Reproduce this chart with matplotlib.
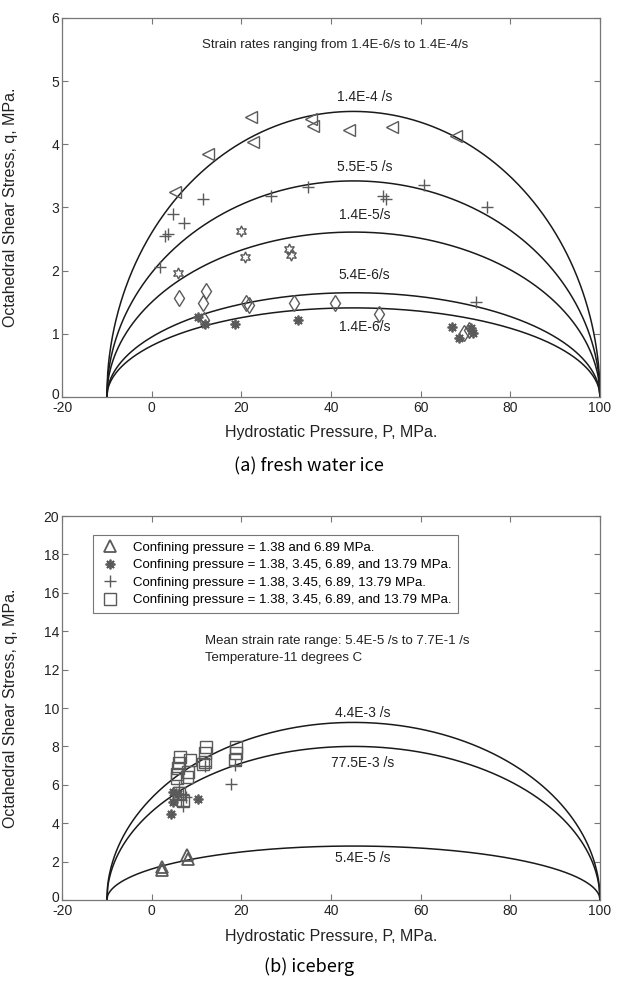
import numpy as np
import matplotlib.pyplot as plt
import matplotlib.transforms as mtransforms

plt.rcParams['font.family'] = ['Liberation Sans', 'DejaVu Sans']
plt.rcParams['axes.unicode_minus'] = False

# failure envelopes run from p_min to p_max (MPa)
p_min, p_max = -10, 100

# (a) fresh water ice - peak q of each strain-rate envelope
rates_a = ['1.4E-4 /s', '5.5E-5 /s', '1.4E-5/s', '5.4E-6/s', '1.4E-6/s']
peaks_a = [4.52, 3.42, 2.61, 1.65, 1.41]
label_q_a = [4.75, 3.64, 2.88, 1.93, 1.11]

# (a) test points, one marker per strain rate
tri_a_p = [5.1, 12.5, 22.1, 22.6, 35.6, 35.9, 44.1, 53.7, 67.9]
tri_a_q = [3.25, 3.85, 4.43, 4.04, 4.40, 4.29, 4.22, 4.27, 4.13]
plus_a_p = [1.8, 3.0, 3.6, 4.7, 7.3, 11.4, 26.7, 34.8, 51.6, 52.2, 60.8, 74.9, 72.3]
plus_a_q = [2.06, 2.54, 2.58, 2.90, 2.75, 3.14, 3.18, 3.33, 3.18, 3.14, 3.35, 3.00, 1.51]
hex_a_p = [5.9, 20.0, 20.9, 30.6, 31.0]
hex_a_q = [1.96, 2.63, 2.22, 2.35, 2.25]
dia_a_p = [6.1, 11.4, 11.6, 12.2, 21.1, 21.6, 31.8, 40.8, 50.8, 69.7, 70.8]
dia_a_q = [1.56, 1.49, 1.22, 1.68, 1.48, 1.45, 1.49, 1.48, 1.32, 1.02, 1.06]
ast_a_p = [10.3, 11.8, 18.5, 32.6, 67.0, 68.6, 71.2, 71.6]
ast_a_q = [1.27, 1.16, 1.16, 1.22, 1.11, 0.93, 1.09, 1.01]

# (b) iceberg
rates_b = ['4.4E-3 /s', '77.5E-3 /s', '5.4E-5 /s']
peaks_b = [9.25, 8.0, 2.81]
label_q_b = [9.75, 7.14, 2.19]

tri_b_p = [2.2, 2.3, 7.9, 8.1]
tri_b_q = [1.70, 1.55, 2.35, 2.15]
ast_b_p = [4.8, 4.8, 4.4, 10.3, 5.9]
ast_b_q = [5.64, 5.12, 4.48, 5.24, 5.50]
plus_b_p = [6.6, 7.0, 7.0, 7.7, 17.7, 18.5, 11.8, 6.0]
plus_b_q = [5.21, 5.52, 4.90, 5.38, 6.04, 7.03, 7.00, 5.90]
sq_b_p = [5.6, 5.6, 5.9, 6.1, 6.4, 7.9, 8.1, 8.5, 11.4, 11.8, 12.0, 12.2,
          18.5, 18.7, 18.7, 6.2, 7.0]
sq_b_q = [6.34, 6.56, 6.86, 7.12, 7.46, 6.39, 6.68, 7.29, 7.08, 7.20, 7.64, 7.99,
          7.29, 7.64, 7.99, 5.57, 5.15]

legend_b = ['Confining pressure = 1.38 and 6.89 MPa.',
            'Confining pressure = 1.38, 3.45, 6.89, and 13.79 MPa.',
            'Confining pressure = 1.38, 3.45, 6.89, 13.79 MPa.',
            'Confining pressure = 1.38, 3.45, 6.89, and 13.79 MPa.']

mk_col = '#5a5a5a'
asterisk = (8, 2, 0)
hexagram = (6, 1, 0)


def envelope(peak):
    # elliptical envelope through p_min and p_max
    p = np.linspace(p_min, p_max, 600)
    c = 0.5 * (p_min + p_max)
    h = 0.5 * (p_max - p_min)
    q = peak * np.sqrt(np.clip(1 - ((p - c) / h) ** 2, 0, None))
    return p, q


def style(ax, ymax, ystep):
    ax.set_xlim(-20, 100)
    ax.set_ylim(0, ymax)
    ax.set_xticks(np.arange(-20, 101, 20))
    ax.set_yticks(np.arange(0, ymax + 0.1, ystep))
    ax.tick_params(direction='in', top=True, right=True, length=4, width=0.8,
                   colors='#777777', labelcolor='#222222', labelsize=10)
    ax.tick_params(axis='x', pad=3)
    ax.tick_params(axis='y', pad=2)
    for s in ax.spines.values():
        s.set_color('#777777')
        s.set_linewidth(0.9)
    ax.set_xlabel('Hydrostatic Pressure, P, MPa.', fontsize=11.5, color='#222222')
    ax.set_ylabel('Octahedral Shear Stress, q, MPa.', fontsize=11.5, color='#222222')
    ax.xaxis.set_label_coords(0.5, -0.075)
    ax.yaxis.set_label_coords(-0.082, 0.5)
    # lift the "0" a little so it sits just above the "-20"
    zero = ax.get_yticklabels()[0]
    zero.set_transform(zero.get_transform() +
                       mtransforms.ScaledTranslation(0, 2.5 / 72, fig.dpi_scale_trans))


def pts(ax, p, q, m, ms, mew=1.0):
    return ax.plot(p, q, linestyle='none', marker=m, ms=ms, mfc='none',
                   mec=mk_col, mew=mew)[0]


fig = plt.figure(figsize=(6.17, 9.85), dpi=100)

# ---- (a) fresh water ice
ax1 = fig.add_axes([0.1005, 0.597, 0.872, 0.3848])
for pk, lab, lq in zip(peaks_a, rates_a, label_q_a):
    p, q = envelope(pk)
    ax1.plot(p, q, color='#1a1a1a', lw=1.1)
    ax1.text(47.5, lq, lab, ha='center', va='center', fontsize=10, color='#222222')
pts(ax1, tri_a_p, tri_a_q, '<', 8.5)
pts(ax1, plus_a_p, plus_a_q, '+', 9)
pts(ax1, hex_a_p, hex_a_q, hexagram, 8)
pts(ax1, dia_a_p, dia_a_q, 'd', 8.5)
pts(ax1, ast_a_p, ast_a_q, asterisk, 7, 1.3)
ax1.text(41, 5.57, 'Strain rates ranging from 1.4E-6/s to 1.4E-4/s',
         ha='center', va='center', fontsize=9.5, color='#222222')
style(ax1, 6, 1)
fig.text(0.5, 1 - 466 / 985, '(a) fresh water ice', ha='center', va='center',
         fontsize=13, family=['Noto Sans CJK KR', 'DejaVu Sans'], fontweight='light')

# ---- (b) iceberg
ax2 = fig.add_axes([0.1005, 0.0863, 0.872, 0.3898])
for pk, lab, lq in zip(peaks_b, rates_b, label_q_b):
    p, q = envelope(pk)
    ax2.plot(p, q, color='#1a1a1a', lw=1.1)
    ax2.text(47, lq, lab, ha='center', va='center', fontsize=10, color='#222222')
h1 = pts(ax2, tri_b_p, tri_b_q, '^', 9, 1.3)
h2 = pts(ax2, ast_b_p, ast_b_q, asterisk, 7, 1.3)
h3 = pts(ax2, plus_b_p, plus_b_q, '+', 9)
h4 = pts(ax2, sq_b_p, sq_b_q, 's', 8)
leg = ax2.legend([h1, h2, h3, h4], legend_b, loc='upper left',
                 bbox_to_anchor=(0.058, 0.951), borderaxespad=0, fontsize=9.5,
                 fancybox=False, edgecolor='#777777', framealpha=1,
                 labelspacing=0.4, handlelength=1.6, handletextpad=0.9,
                 borderpad=0.5)
leg.get_frame().set_linewidth(0.8)
ax2.text(12, 13.5, 'Mean strain rate range: 5.4E-5 /s to 7.7E-1 /s',
         ha='left', va='center', fontsize=9.5, color='#222222')
ax2.text(12, 12.6, 'Temperature-11 degrees C',
         ha='left', va='center', fontsize=9.5, color='#222222')
style(ax2, 20, 2)
fig.text(0.5, 1 - 967 / 985, '(b) iceberg', ha='center', va='center',
         fontsize=13, family=['Noto Sans CJK KR', 'DejaVu Sans'], fontweight='light')

fig.savefig('out.png', dpi=100)
